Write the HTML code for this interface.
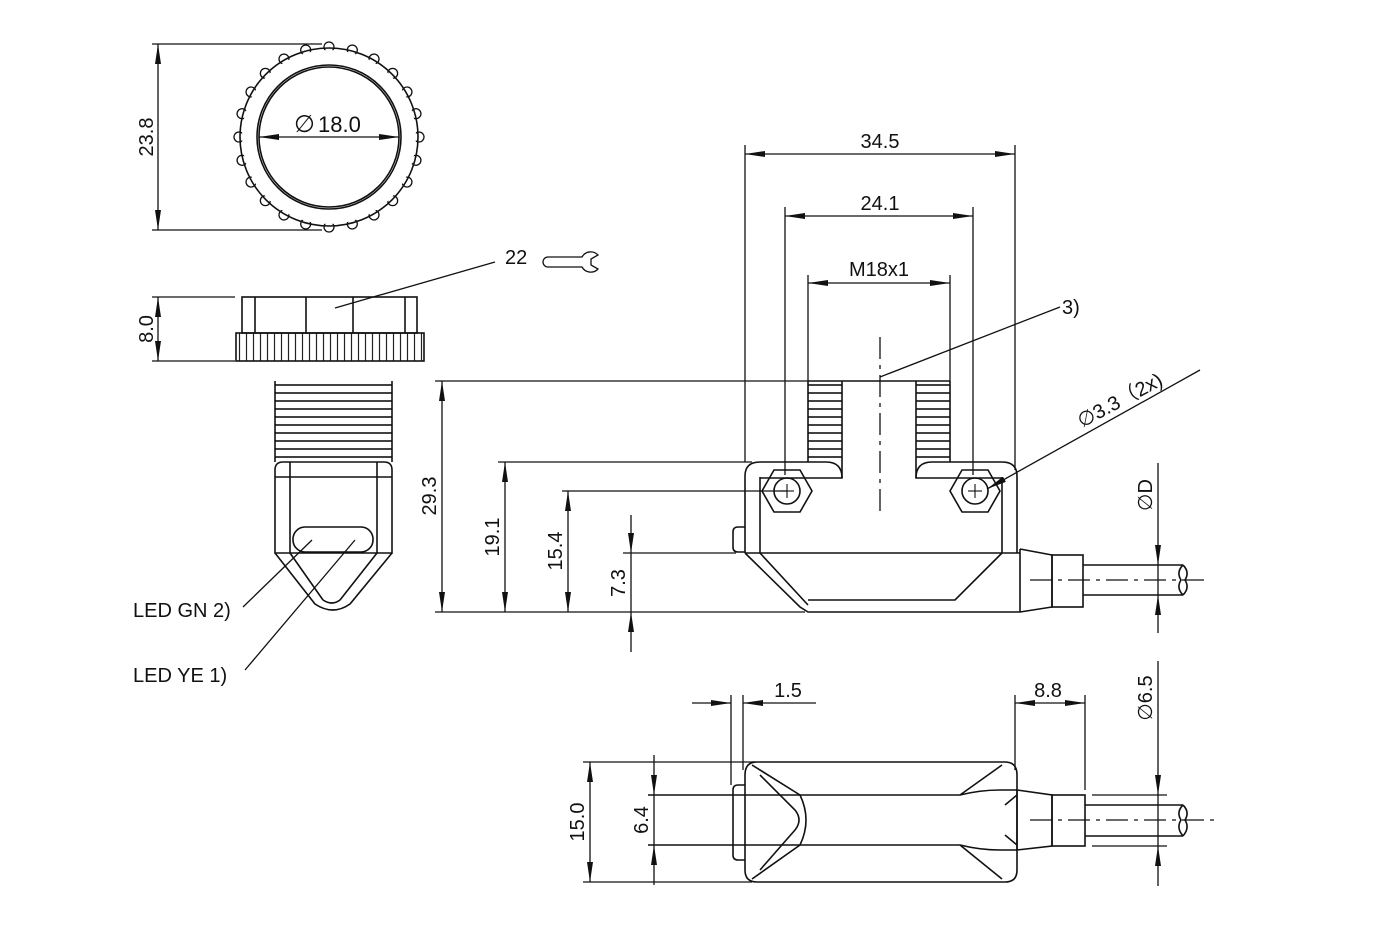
<!DOCTYPE html>
<html><head><meta charset="utf-8"><style>
html,body{margin:0;padding:0;background:#fff;}
svg{display:block;}
text{font-family:"Liberation Sans",sans-serif;font-size:20px;fill:#111;}
</style></head><body>
<svg width="1380" height="946" viewBox="0 0 1380 946" xmlns="http://www.w3.org/2000/svg">
<defs>
<marker id="a" viewBox="0 0 20 6" refX="20" refY="3" markerWidth="20" markerHeight="6" markerUnits="userSpaceOnUse" orient="auto-start-reverse"><path d="M0,0 L20,3 L0,6 z" fill="#111"/></marker>
<pattern id="knurl" x="236" y="0" width="7" height="10" patternUnits="userSpaceOnUse"><line x1="3.5" y1="0" x2="3.5" y2="10" stroke="#222" stroke-width="1.2"/></pattern>
<pattern id="thr" x="0" y="381" width="10" height="8" patternUnits="userSpaceOnUse"><line x1="0" y1="4" x2="10" y2="4" stroke="#111" stroke-width="1.6"/></pattern>
</defs>
<g fill="none" stroke="#111" stroke-width="1.6">

<!-- front view of nut -->
<g stroke-width="1.3">
<circle cx="329" cy="47" r="5"/><circle cx="329" cy="227" r="5"/>
<circle cx="329" cy="47" r="5" transform="rotate(15 329 137)"/><circle cx="329" cy="47" r="5" transform="rotate(30 329 137)"/>
<circle cx="329" cy="47" r="5" transform="rotate(45 329 137)"/><circle cx="329" cy="47" r="5" transform="rotate(60 329 137)"/>
<circle cx="329" cy="47" r="5" transform="rotate(75 329 137)"/><circle cx="329" cy="47" r="5" transform="rotate(90 329 137)"/>
<circle cx="329" cy="47" r="5" transform="rotate(105 329 137)"/><circle cx="329" cy="47" r="5" transform="rotate(120 329 137)"/>
<circle cx="329" cy="47" r="5" transform="rotate(135 329 137)"/><circle cx="329" cy="47" r="5" transform="rotate(150 329 137)"/>
<circle cx="329" cy="47" r="5" transform="rotate(165 329 137)"/><circle cx="329" cy="47" r="5" transform="rotate(195 329 137)"/>
<circle cx="329" cy="47" r="5" transform="rotate(210 329 137)"/><circle cx="329" cy="47" r="5" transform="rotate(225 329 137)"/>
<circle cx="329" cy="47" r="5" transform="rotate(240 329 137)"/><circle cx="329" cy="47" r="5" transform="rotate(255 329 137)"/>
<circle cx="329" cy="47" r="5" transform="rotate(270 329 137)"/><circle cx="329" cy="47" r="5" transform="rotate(285 329 137)"/>
<circle cx="329" cy="47" r="5" transform="rotate(300 329 137)"/><circle cx="329" cy="47" r="5" transform="rotate(315 329 137)"/>
<circle cx="329" cy="47" r="5" transform="rotate(330 329 137)"/><circle cx="329" cy="47" r="5" transform="rotate(345 329 137)"/>
</g>
<circle cx="329" cy="137" r="87" fill="#fff" stroke="none"/>
<circle cx="329" cy="137" r="89"/>
<circle cx="329" cy="137" r="72"/>
<circle cx="329" cy="137" r="70"/>
<line x1="259" y1="137" x2="399" y2="137" stroke-width="1.3" marker-start="url(#a)" marker-end="url(#a)"/>
<line x1="152" y1="44" x2="322" y2="44" stroke-width="1.3"/>
<line x1="152" y1="230" x2="322" y2="230" stroke-width="1.3"/>
<line x1="158" y1="44" x2="158" y2="230" stroke-width="1.3" marker-start="url(#a)" marker-end="url(#a)"/>

<!-- nut side -->
<rect x="242" y="297" width="175" height="36"/>
<line x1="255" y1="297" x2="255" y2="333"/><line x1="306" y1="297" x2="306" y2="333"/>
<line x1="353" y1="297" x2="353" y2="333"/><line x1="405" y1="297" x2="405" y2="333"/>
<rect x="236" y="333" width="188" height="28" fill="url(#knurl)"/>
<line x1="152" y1="297" x2="235" y2="297" stroke-width="1.3"/>
<line x1="152" y1="361" x2="235" y2="361" stroke-width="1.3"/>
<line x1="158" y1="297" x2="158" y2="361" stroke-width="1.3" marker-start="url(#a)" marker-end="url(#a)"/>
<line x1="335" y1="308" x2="495" y2="262" stroke-width="1.3"/>
<path d="M582,257 H548 A5,5 0 0 0 548,267 H582 A10,10 0 0 0 598,269 L591,265 V259 L598,255 A10,10 0 0 0 582,257 Z" stroke-width="1.3"/>

<!-- side view -->
<rect x="275" y="381" width="117" height="81" fill="url(#thr)" stroke="none"/>
<line x1="275" y1="381" x2="275" y2="462"/><line x1="392" y1="381" x2="392" y2="462"/>
<path d="M275,553 V470 Q275,462 283,462 H384 Q392,462 392,470 V553 Z"/>
<line x1="275" y1="477" x2="392" y2="477"/>
<line x1="290" y1="462" x2="290" y2="553"/><line x1="377" y1="462" x2="377" y2="553"/>
<rect x="293" y="527" width="80" height="25" rx="12"/>
<path d="M275,553 L315,604 Q333,616 350,604 L392,553"/>
<path d="M290,553 L323,600 M377,553 L340,600 M323,600 Q332,606 340,600"/>
<line x1="243" y1="607" x2="312" y2="540" stroke-width="1.3"/>
<line x1="245" y1="670" x2="355" y2="540" stroke-width="1.3"/>

<!-- main view -->
<line x1="880" y1="337" x2="880" y2="515" stroke-width="1.3" stroke-dasharray="22,6,4,6"/>
<rect x="808" y="381" width="34" height="81" fill="url(#thr)" stroke="none"/>
<rect x="916" y="381" width="34" height="81" fill="url(#thr)" stroke="none"/>
<path d="M808,381 V462 M842,381 V478 M916,381 V478 M950,381 V462 M808,381 H950"/>
<path d="M745,553 V476 Q745,462 760,462 H826 Q842,462 842,478 H760 M1017,553 V476 Q1017,462 1002,462 H932 Q916,462 916,478 H1002"/>
<line x1="760" y1="477" x2="760" y2="553"/><line x1="1002" y1="477" x2="1002" y2="553"/>
<polygon points="762,491 774,470 800,470 812,491 800,512 774,512"/>
<circle cx="787" cy="491" r="13"/>
<polygon points="950,491 962,470 988,470 1000,491 988,512 962,512"/>
<circle cx="975" cy="491" r="13"/>
<g stroke-width="1.1"><line x1="780" y1="491" x2="794" y2="491"/><line x1="787" y1="484" x2="787" y2="498"/>
<line x1="968" y1="491" x2="982" y2="491"/><line x1="975" y1="484" x2="975" y2="498"/></g>
<path d="M745,527 H738 Q733,527 733,532 V547 Q733,552 738,552 H745"/>
<line x1="745" y1="553" x2="1020" y2="553"/>
<path d="M745,553 L800,607 L808,612 H1020 M760,553 L808,605 M808,600 H955 L1002,553"/>
<path d="M1020,549 V612 M1020,549 L1052,555 V607 L1020,612"/>
<rect x="1052" y="555" width="31" height="52"/>
<path d="M1083,565 H1183 M1083,595 H1183 M1183,565 Q1190,572 1185,580 Q1190,588 1183,595 M1183,565 Q1176,572 1181,580 Q1176,588 1183,595"/>
<line x1="1030" y1="580" x2="1210" y2="580" stroke-width="1.3" stroke-dasharray="22,6,4,6"/>
<line x1="1158" y1="463" x2="1158" y2="565" stroke-width="1.3" marker-end="url(#a)"/>
<line x1="1158" y1="633" x2="1158" y2="595" stroke-width="1.3" marker-end="url(#a)"/>
<line x1="1158" y1="565" x2="1158" y2="595" stroke-width="1.3"/>

<g stroke-width="1.3">
<line x1="745" y1="145" x2="745" y2="462"/><line x1="1015" y1="145" x2="1015" y2="470"/>
<line x1="745" y1="154" x2="1015" y2="154" marker-start="url(#a)" marker-end="url(#a)"/>
<line x1="785" y1="207" x2="785" y2="475"/><line x1="973" y1="207" x2="973" y2="475"/>
<line x1="785" y1="216" x2="973" y2="216" marker-start="url(#a)" marker-end="url(#a)"/>
<line x1="808" y1="275" x2="808" y2="381"/><line x1="950" y1="275" x2="950" y2="381"/>
<line x1="808" y1="283" x2="950" y2="283" marker-start="url(#a)" marker-end="url(#a)"/>
<line x1="880" y1="377" x2="1060" y2="307"/>
<line x1="987" y1="489" x2="1200" y2="370" marker-start="url(#a)"/>
<line x1="435" y1="381" x2="808" y2="381"/>
<line x1="435" y1="612" x2="805" y2="612"/>
<line x1="498" y1="462" x2="752" y2="462"/>
<line x1="562" y1="491" x2="787" y2="491"/>
<line x1="623" y1="553" x2="736" y2="553"/>
<line x1="442" y1="381" x2="442" y2="612" marker-start="url(#a)" marker-end="url(#a)"/>
<line x1="505" y1="462" x2="505" y2="612" marker-start="url(#a)" marker-end="url(#a)"/>
<line x1="568" y1="491" x2="568" y2="612" marker-start="url(#a)" marker-end="url(#a)"/>
<line x1="631" y1="515" x2="631" y2="553" marker-end="url(#a)"/>
<line x1="631" y1="652" x2="631" y2="612" marker-end="url(#a)"/>
<line x1="631" y1="553" x2="631" y2="612"/>
</g>

<!-- bottom view -->
<path d="M752,762 H1005 Q1017,762 1017,775 V870 Q1017,882 1005,882 H757 Q745,882 745,870 V775 Q745,762 757,762 Z"/>
<path d="M745,785 H738 Q733,785 733,790 V855 Q733,860 738,860 H745"/>
<path d="M752,765 L800,795 M752,879 L800,845 M760,775 L795,810 Q803,820 795,830 L760,870 M800,795 Q812,820 800,845"/>
<path d="M1002,765 L960,795 M1002,879 L960,845 M1017,795 L1005,805 M1017,845 L1005,835"/>
<path d="M648,795 H800 M648,845 H800 M800,795 H960 Q980,790 1000,790 H1017 M800,845 H960 Q980,850 1000,850 H1017"/>
<path d="M1017,790 V850 M1017,790 L1052,795 V846 L1017,850"/>
<rect x="1052" y="795" width="33" height="51"/>
<path d="M1085,805 H1183 M1085,836 H1183 M1183,805 Q1190,812 1185,820 Q1190,828 1183,836 M1183,805 Q1176,812 1181,820 Q1176,828 1183,836"/>
<line x1="1030" y1="820" x2="1215" y2="820" stroke-width="1.3" stroke-dasharray="22,6,4,6"/>
<g stroke-width="1.3">
<line x1="1092" y1="795" x2="1167" y2="795"/><line x1="1092" y1="846" x2="1167" y2="846"/>
<line x1="1158" y1="661" x2="1158" y2="795" marker-end="url(#a)"/>
<line x1="1158" y1="886" x2="1158" y2="846" marker-end="url(#a)"/>
<line x1="1158" y1="795" x2="1158" y2="846"/>
<line x1="583" y1="762" x2="752" y2="762"/><line x1="583" y1="882" x2="752" y2="882"/>
<line x1="590" y1="762" x2="590" y2="882" marker-start="url(#a)" marker-end="url(#a)"/>
<line x1="654" y1="755" x2="654" y2="795" marker-end="url(#a)"/>
<line x1="654" y1="885" x2="654" y2="845" marker-end="url(#a)"/>
<line x1="654" y1="795" x2="654" y2="845"/>
<line x1="731" y1="695" x2="731" y2="785"/><line x1="743" y1="695" x2="743" y2="770"/>
<line x1="692" y1="703" x2="731" y2="703" marker-end="url(#a)"/>
<line x1="816" y1="703" x2="743" y2="703" marker-end="url(#a)"/>
<line x1="1015" y1="695" x2="1015" y2="770"/><line x1="1085" y1="695" x2="1085" y2="790"/>
<line x1="1015" y1="703" x2="1085" y2="703" marker-start="url(#a)" marker-end="url(#a)"/>
</g>
</g>

<!-- text -->
<text x="294" y="132" style="font-size:24px">∅</text><text x="318" y="132" style="font-size:22px">18.0</text>
<text transform="translate(153,137) rotate(-90)" text-anchor="middle">23.8</text>
<text transform="translate(153,329) rotate(-90)" text-anchor="middle">8.0</text>
<text x="505" y="264">22</text>
<text x="133" y="617">LED GN 2)</text>
<text x="133" y="682">LED YE 1)</text>
<text x="880" y="148" text-anchor="middle">34.5</text>
<text x="880" y="210" text-anchor="middle">24.1</text>
<text x="879" y="276" text-anchor="middle">M18x1</text>
<text x="1062" y="314">3)</text>
<text transform="translate(1082,428) rotate(-28)">∅3.3（2x)</text>
<text transform="translate(436,496) rotate(-90)" text-anchor="middle">29.3</text>
<text transform="translate(499,537) rotate(-90)" text-anchor="middle">19.1</text>
<text transform="translate(562,551) rotate(-90)" text-anchor="middle">15.4</text>
<text transform="translate(625,583) rotate(-90)" text-anchor="middle">7.3</text>
<text transform="translate(1152,495) rotate(-90)" text-anchor="middle">∅D</text>
<text x="788" y="697" text-anchor="middle">1.5</text>
<text x="1048" y="697" text-anchor="middle">8.8</text>
<text transform="translate(1152,698) rotate(-90)" text-anchor="middle">∅6.5</text>
<text transform="translate(584,822) rotate(-90)" text-anchor="middle">15.0</text>
<text transform="translate(648,820) rotate(-90)" text-anchor="middle">6.4</text>
</svg>
</body></html>
